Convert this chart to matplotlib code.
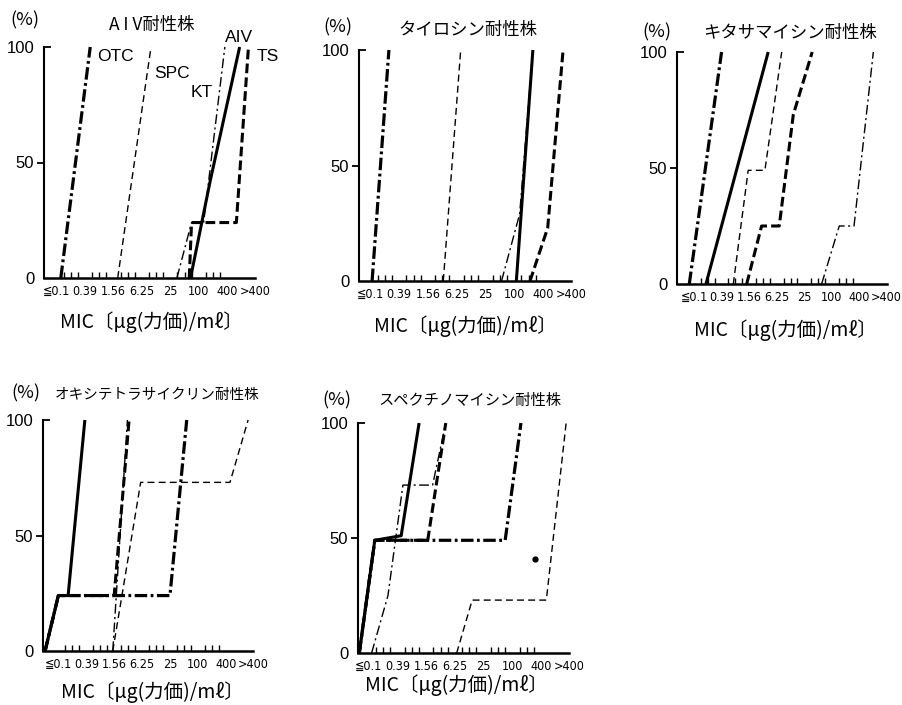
import numpy as np
import matplotlib
matplotlib.use('Agg')
import matplotlib.pyplot as plt
import matplotlib.lines as mlines

plt.rcParams['font.family'] = ['Noto Sans CJK JP', 'DejaVu Sans']
plt.rcParams['lines.scale_dashes'] = False

# パネル名・軸ラベル
titles = ['A I V耐性株', 'タイロシン耐性株', 'キタサマイシン耐性株',
          'オキシテトラサイクリン耐性株', 'スペクチノマイシン耐性株']
tick_labels = ['≦0.1', '0.39', '1.56', '6.25', '25', '100', '400', '>400']
tick_pos = [0, 2, 4, 6, 8, 10, 12, 13.95]   # 2倍希釈の段数
xlabel = 'MIC〔μg(力価)/mℓ〕'

# 各薬剤の累積% (x は希釈段数, パネル順)
aiv_x = [[9.42, 10.8, 12.87], [10.15, 11.3], [0.87, 5.38],
         [-0.95, 0, 0.7, 1.9], [-0.67, 0.41, 2.25, 3.5]]
aiv_y = [[0, 42, 100], [0, 100], [0, 100],
         [0, 24, 24, 100], [0, 49, 51, 100]]
ts_x = [[9.33, 9.49, 12.64, 13.49], [11.1, 12.33, 13.4],
        [3.82, 4.9, 6.18, 7.2, 8.57], [-0.95, 0, 4.0, 5.07],
        [-0.67, 0.41, 4.1, 5.36]]
ts_y = [[0, 24, 24, 100], [0, 23, 100], [0, 25, 25, 73, 100],
        [0, 24, 24, 100], [0, 49, 49, 100]]
kt_x = [[8.46, 9.49, 10.34, 11.83], [9.12, 10.38, 11.3],
        [9.25, 10.53, 11.6, 13.0], [3.9, 4.95],
        [0.19, 1.33, 2.37, 4.44, 5.36]]
kt_y = [[0, 24, 24, 100], [0, 29, 100], [0, 25, 25, 100], [0, 100],
        [0, 25, 73, 73, 100]]
otc_x = [[0.3, 2.37], [0.12, 1.29], [-0.34, 2.0],
         [-0.95, 0, 8.0, 9.2], [-0.67, 0.41, 9.5, 10.6]]
otc_y = [[0, 100], [0, 100], [0, 100], [0, 24, 24, 100], [0, 49, 49, 100]]
spc_x = [[4.3, 6.64], [5.07, 6.28], [2.85, 3.93, 5.14, 6.36],
         [3.9, 5.9, 12.3, 13.6], [6.12, 7.2, 12.37, 13.75]]
spc_y = [[0, 100], [0, 100], [0, 49, 49, 100], [0, 73, 73, 100],
         [0, 23, 23, 100]]

# 図中の薬剤名 (AIV耐性株のみ)
drug_names = ['OTC', 'SPC', 'KT', 'AIV', 'TS']
name_x = [4.16, 8.09, 10.23, 12.85, 14.85]
name_y = [96, 88.7, 80.5, 104.3, 95.7]

# スペクチノマイシン図中の点
dot_x = [11.6]
dot_y = [41]

# 線の種類
styles = {
    'aiv': dict(color='black', lw=2.2, ls='-'),
    'ts': dict(color='black', lw=2.2, ls=(0, (7, 3))),
    'kt': dict(color='black', lw=1.0, ls=(0, (7, 2.5, 1.5, 2.5))),
    'otc': dict(color='black', lw=2.3, ls=(0, (9, 2.5, 2, 2.5))),
    'spc': dict(color='black', lw=1.0, ls=(0, (5, 3))),
}

# 軸の位置 (px: 左, 上, 右, 下) と x 範囲
boxes = [(44, 47, 255, 278), (359, 50, 571, 281), (677, 52, 887, 284),
         (43, 420, 253, 651), (358, 423, 569, 653)]
xlims = [(-0.88, 13.68), (-0.79, 13.77), (-1.23, 13.99),
         (-1.1, 13.8), (-0.76, 13.8)]
pct_pos = [(-0.09, 1.117), (-0.10, 1.10), (-0.095, 1.086),
           (-0.08, 1.117), (-0.10, 1.10)]
title_pos = [(0.51, 1.095), (0.514, 1.087), (0.538, 1.082),
             (0.543, 1.108), (0.53, 1.096)]
title_size = [12.5, 12.5, 12.5, 10.5, 11]
xlabel_pos = [(0.51, -0.19), (0.50, -0.195), (0.514, -0.20),
              (0.52, -0.177), (0.464, -0.139)]

W, H = 902, 705
fig = plt.figure(figsize=(W / 100, H / 100), dpi=100)

for i in range(5):
    l, t, r, b = boxes[i]
    ax = fig.add_axes([l / W, 1 - b / H, (r - l) / W, (b - t) / H])

    for key, xs, ys in [('spc', spc_x, spc_y), ('kt', kt_x, kt_y),
                        ('otc', otc_x, otc_y), ('ts', ts_x, ts_y),
                        ('aiv', aiv_x, aiv_y)]:
        ax.plot(xs[i], ys[i], clip_on=False, solid_capstyle='butt',
                dash_capstyle='butt', **styles[key])

    if i == 0:
        for name, nx, ny in zip(drug_names, name_x, name_y):
            ax.text(nx, ny, name, ha='center', va='center', fontsize=12.5,
                    family=['Liberation Sans', 'DejaVu Sans'], clip_on=False)
    if i == 4:
        ax.plot(dot_x, dot_y, 'o', color='black', ms=3.5, clip_on=False)

    ax.set_xlim(*xlims[i])
    ax.set_ylim(0, 100)
    for s in ['top', 'right']:
        ax.spines[s].set_visible(False)
    ax.spines['left'].set_linewidth(1.5)
    ax.spines['bottom'].set_linewidth(1.8)

    ax.set_xticks(tick_pos)
    ax.set_xticklabels(tick_labels, family='DejaVu Sans', fontsize=9,
                       fontstretch='condensed')
    ax.set_xticks(np.arange(0, 12.5, 0.5), minor=True)
    ax.tick_params(axis='x', which='major', length=0, pad=5)
    ax.tick_params(axis='x', which='minor', direction='in', length=4, width=1)

    ax.set_yticks([0, 50, 100])
    ax.set_yticklabels(['0', '50', '100'], family=['Liberation Sans', 'DejaVu Sans'],
                       fontsize=12)
    ax.tick_params(axis='y', direction='out', length=5, width=1.3, pad=2)
    yt = ax.yaxis.get_major_ticks()
    yt[0].tick1line.set_visible(False)
    yt[2].tick1line.set_marker(mlines.TICKRIGHT)

    ax.text(*pct_pos[i], '(%)', transform=ax.transAxes, ha='center',
            va='center', fontsize=13)
    ax.text(*title_pos[i], titles[i], transform=ax.transAxes, ha='center',
            va='center', fontsize=title_size[i])
    ax.text(*xlabel_pos[i], xlabel, transform=ax.transAxes, ha='center',
            va='center', fontsize=14)

fig.savefig('out.png', dpi=100)
